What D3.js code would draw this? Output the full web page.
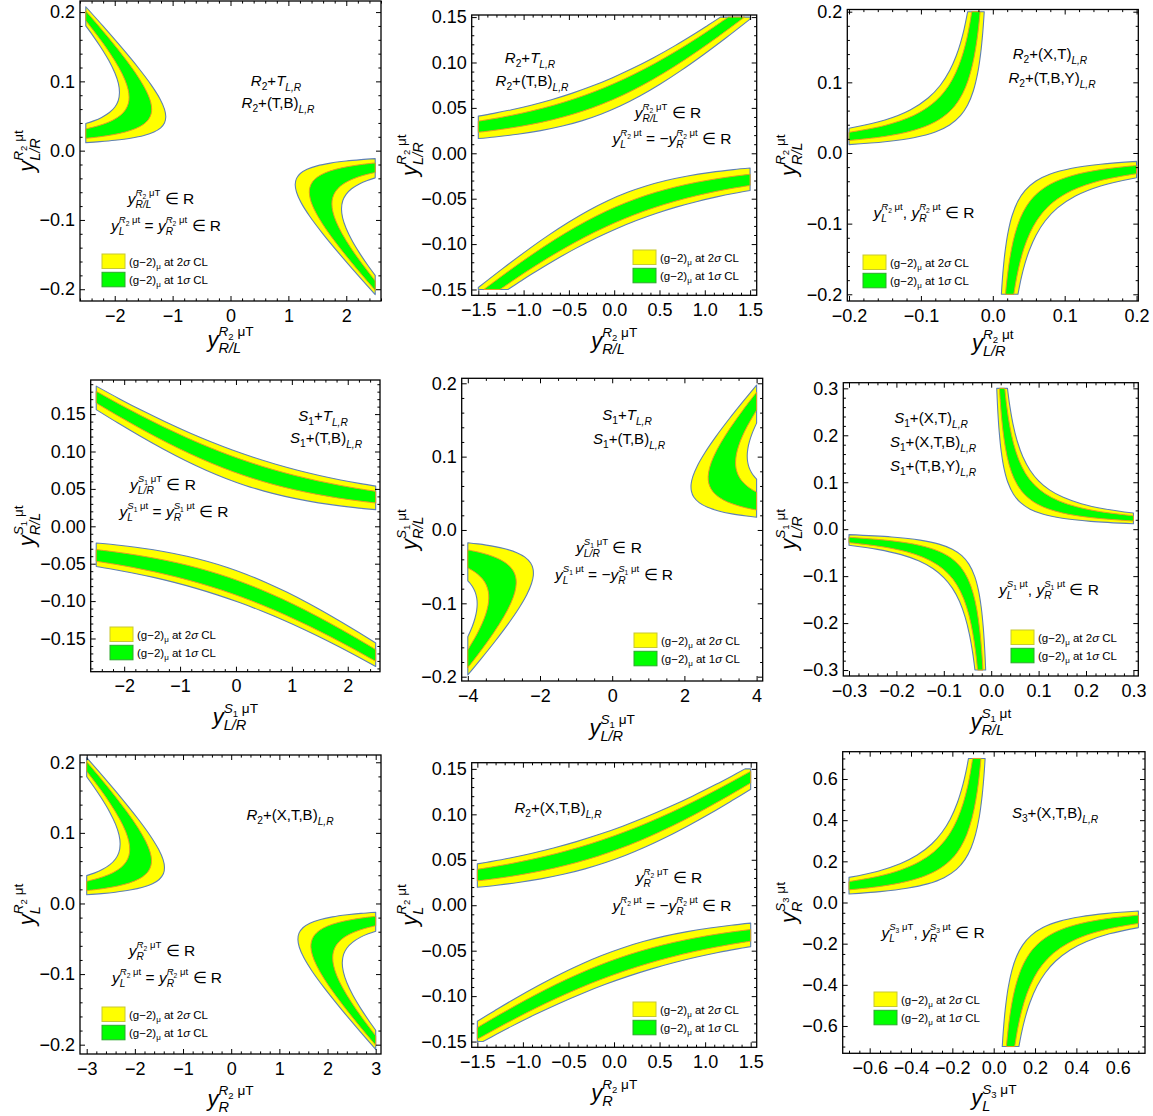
<!DOCTYPE html>
<html><head><meta charset="utf-8">
<script src="https://cdn.jsdelivr.net/npm/d3@7"></script>
<style>
body{margin:0;background:#fff;}
svg{display:block;font-family:"Liberation Sans",Arial,Helvetica,sans-serif;}
text{white-space:pre;}
</style></head><body>
<svg id="chart" width="1153" height="1116"></svg>
<script>
// ================= DATA (boundary points) =================
// Panel 1: R2+T, yL=yR ; x = y^{R2 mu T}_{R/L}, y = y^{R2 mu t}_{L/R}
const p1a_y1 = [[-2.5,0.01157],[-2.256,0.013],[-1.998,0.015],[-1.727,0.018],[-1.496,0.022],[-1.323,0.027],[-1.206,0.033],[-1.141,0.040],[-1.118,0.049],[-1.141,0.060],[-1.220,0.075],[-1.371,0.095],[-1.596,0.120],[-1.893,0.150],[-2.204,0.180],[-2.5,0.2077]];
const p1a_g1 = [[-2.5,0.01771],[-2.263,0.020],[-2.032,0.023],[-1.815,0.027],[-1.637,0.032],[-1.504,0.038],[-1.417,0.045],[-1.372,0.053],[-1.362,0.060],[-1.379,0.070],[-1.448,0.085],[-1.585,0.105],[-1.795,0.130],[-2.078,0.160],[-2.329,0.185],[-2.5,0.2016]];
const p1a_g2 = [[-2.5,0.03143],[-2.367,0.034],[-2.204,0.038],[-2.032,0.044],[-1.901,0.051],[-1.814,0.059],[-1.765,0.068],[-1.752,0.077],[-1.768,0.088],[-1.823,0.102],[-1.929,0.120],[-2.077,0.140],[-2.245,0.160],[-2.5,0.1879]];
const p1a_y2 = [[-2.5,0.03927],[-2.364,0.043],[-2.226,0.048],[-2.092,0.055],[-1.997,0.063],[-1.940,0.072],[-1.918,0.084],[-1.937,0.097],[-1.997,0.112],[-2.102,0.130],[-2.247,0.150],[-2.369,0.165],[-2.5,0.180]];
const p1b_y1 = [[2.5,-0.01157],[2.256,-0.013],[1.998,-0.015],[1.727,-0.018],[1.496,-0.022],[1.323,-0.027],[1.206,-0.033],[1.141,-0.040],[1.118,-0.049],[1.141,-0.060],[1.220,-0.075],[1.371,-0.095],[1.596,-0.120],[1.893,-0.150],[2.204,-0.180],[2.5,-0.2077]];
const p1b_g1 = [[2.5,-0.01771],[2.263,-0.020],[2.032,-0.023],[1.815,-0.027],[1.637,-0.032],[1.504,-0.038],[1.417,-0.045],[1.372,-0.053],[1.362,-0.060],[1.379,-0.070],[1.448,-0.085],[1.585,-0.105],[1.795,-0.130],[2.078,-0.160],[2.329,-0.185],[2.5,-0.2016]];
const p1b_g2 = [[2.5,-0.03143],[2.367,-0.034],[2.204,-0.038],[2.032,-0.044],[1.901,-0.051],[1.814,-0.059],[1.765,-0.068],[1.752,-0.077],[1.768,-0.088],[1.823,-0.102],[1.929,-0.120],[2.077,-0.140],[2.245,-0.160],[2.5,-0.1879]];
const p1b_y2 = [[2.5,-0.03927],[2.364,-0.043],[2.226,-0.048],[2.092,-0.055],[1.997,-0.063],[1.940,-0.072],[1.918,-0.084],[1.937,-0.097],[1.997,-0.112],[2.102,-0.130],[2.247,-0.150],[2.369,-0.165],[2.5,-0.180]];

// Panel 2: R2+T, yL=-yR
const p2a_y1 = [[-1.5,0.01626],[-1.317,0.018],[-1.066,0.021],[-0.811,0.025],[-0.571,0.030],[-0.351,0.036],[-0.147,0.043],[0.066,0.052],[0.283,0.063],[0.505,0.076],[0.736,0.091],[0.977,0.108],[1.232,0.127],[1.5,0.1478]];
const p2a_g1 = [[-1.5,0.02308],[-1.343,0.025],[-1.135,0.028],[-0.907,0.032],[-0.678,0.037],[-0.457,0.043],[-0.244,0.050],[-0.017,0.059],[0.197,0.069],[0.421,0.081],[0.655,0.095],[0.898,0.111],[1.155,0.129],[1.439,0.150]];
const p2a_g2 = [[-1.5,0.03536],[-1.338,0.038],[-1.123,0.042],[-0.896,0.047],[-0.666,0.053],[-0.438,0.060],[-0.215,0.068],[0.004,0.077],[0.218,0.087],[0.449,0.099],[0.676,0.112],[0.918,0.127],[1.085,0.138],[1.261,0.150]];
const p2a_y2 = [[-1.5,0.04097],[-1.330,0.044],[-1.132,0.048],[-0.917,0.053],[-0.693,0.059],[-0.469,0.066],[-0.245,0.074],[-0.025,0.083],[0.193,0.093],[0.429,0.105],[0.662,0.118],[0.910,0.133],[1.035,0.141],[1.173,0.150]];
const p2a_corner = [[1.5,0.15]];
const p2b_y1 = [[1.5,-0.01626],[1.317,-0.018],[1.066,-0.021],[0.811,-0.025],[0.571,-0.030],[0.351,-0.036],[0.147,-0.043],[-0.066,-0.052],[-0.283,-0.063],[-0.505,-0.076],[-0.736,-0.091],[-0.977,-0.108],[-1.232,-0.127],[-1.5,-0.1478]];
const p2b_g1 = [[1.5,-0.02308],[1.343,-0.025],[1.135,-0.028],[0.907,-0.032],[0.678,-0.037],[0.457,-0.043],[0.244,-0.050],[0.017,-0.059],[-0.197,-0.069],[-0.421,-0.081],[-0.655,-0.095],[-0.898,-0.111],[-1.155,-0.129],[-1.439,-0.150]];
const p2b_g2 = [[1.5,-0.03536],[1.338,-0.038],[1.123,-0.042],[0.896,-0.047],[0.666,-0.053],[0.438,-0.060],[0.215,-0.068],[-0.004,-0.077],[-0.218,-0.087],[-0.449,-0.099],[-0.676,-0.112],[-0.918,-0.127],[-1.085,-0.138],[-1.261,-0.150]];
const p2b_y2 = [[1.5,-0.04097],[1.330,-0.044],[1.132,-0.048],[0.917,-0.053],[0.693,-0.059],[0.469,-0.066],[0.245,-0.074],[0.025,-0.083],[-0.193,-0.093],[-0.429,-0.105],[-0.662,-0.118],[-0.910,-0.133],[-1.035,-0.141],[-1.173,-0.150]];
const p2b_corner = [[-1.5,-0.15]];

// Panel 3: R2+(X,T), yL, yR
const p3a_y1 = [[-0.2,0.0119],[-0.15,0.01587],[-0.11,0.02164],[-0.08,0.02975],[-0.06,0.03967],[-0.045,0.05289],[-0.035,0.068],[-0.027,0.08815],[-0.021,0.1133],[-0.017,0.14],[-0.014,0.17],[-0.0119,0.2]];
const p3a_g1 = [[-0.2,0.01765],[-0.15,0.02353],[-0.11,0.03209],[-0.08,0.04413],[-0.06,0.05883],[-0.047,0.07511],[-0.038,0.09289],[-0.031,0.1139],[-0.026,0.1358],[-0.022,0.1605],[-0.0195,0.181],[-0.01765,0.2]];
const p3a_g2 = [[-0.2,0.02925],[-0.15,0.039],[-0.11,0.05318],[-0.085,0.06882],[-0.068,0.08603],[-0.056,0.1045],[-0.047,0.1245],[-0.041,0.1427],[-0.036,0.1625],[-0.032,0.1828],[-0.02925,0.2]];
const p3a_y2 = [[-0.2,0.035],[-0.15,0.04667],[-0.115,0.06087],[-0.09,0.07778],[-0.073,0.09589],[-0.06,0.1167],[-0.051,0.1373],[-0.045,0.1556],[-0.04,0.175],[-0.035,0.2]];
const p3b_y1 = [[0.2,-0.0119],[0.15,-0.01587],[0.11,-0.02164],[0.08,-0.02975],[0.06,-0.03967],[0.045,-0.05289],[0.035,-0.068],[0.027,-0.08815],[0.021,-0.1133],[0.017,-0.14],[0.014,-0.17],[0.0119,-0.2]];
const p3b_g1 = [[0.2,-0.01765],[0.15,-0.02353],[0.11,-0.03209],[0.08,-0.04413],[0.06,-0.05883],[0.047,-0.07511],[0.038,-0.09289],[0.031,-0.1139],[0.026,-0.1358],[0.022,-0.1605],[0.0195,-0.181],[0.01765,-0.2]];
const p3b_g2 = [[0.2,-0.02925],[0.15,-0.039],[0.11,-0.05318],[0.085,-0.06882],[0.068,-0.08603],[0.056,-0.1045],[0.047,-0.1245],[0.041,-0.1427],[0.036,-0.1625],[0.032,-0.1828],[0.02925,-0.2]];
const p3b_y2 = [[0.2,-0.035],[0.15,-0.04667],[0.115,-0.06087],[0.09,-0.07778],[0.073,-0.09589],[0.06,-0.1167],[0.051,-0.1373],[0.045,-0.1556],[0.04,-0.175],[0.035,-0.2]];

// Panel 4: S1+T, yL=yR
const p4a_y1 = [[2.5,0.02229],[2.132,0.025],[1.699,0.029],[1.276,0.034],[0.877,0.040],[0.504,0.047],[0.153,0.055],[-0.181,0.064],[-0.536,0.075],[-0.907,0.088],[-1.295,0.103],[-1.702,0.120],[-2.110,0.138],[-2.5,0.1560]];
const p4a_g1 = [[2.5,0.03114],[2.188,0.034],[1.815,0.038],[1.429,0.043],[1.043,0.049],[0.667,0.056],[0.303,0.064],[-0.050,0.073],[-0.428,0.084],[-0.824,0.097],[-1.237,0.112],[-1.668,0.129],[-2.096,0.147],[-2.5,0.1648]];
const p4a_g2 = [[2.5,0.04681],[2.225,0.050],[1.844,0.055],[1.449,0.061],[1.052,0.068],[0.658,0.076],[0.269,0.085],[-0.114,0.095],[-0.491,0.106],[-0.897,0.119],[-1.299,0.133],[-1.700,0.148],[-2.104,0.164],[-2.5,0.1805]];
const p4a_y2 = [[2.5,0.05366],[2.232,0.057],[1.873,0.062],[1.493,0.068],[1.104,0.075],[0.713,0.083],[0.323,0.092],[-0.064,0.102],[-0.449,0.113],[-0.834,0.125],[-1.246,0.139],[-1.659,0.154],[-2.073,0.170],[-2.5,0.1874]];
const p4b_y1 = [[-2.5,-0.02229],[-2.132,-0.025],[-1.699,-0.029],[-1.276,-0.034],[-0.877,-0.040],[-0.504,-0.047],[-0.153,-0.055],[0.181,-0.064],[0.536,-0.075],[0.907,-0.088],[1.295,-0.103],[1.702,-0.120],[2.110,-0.138],[2.5,-0.1560]];
const p4b_g1 = [[-2.5,-0.03114],[-2.188,-0.034],[-1.815,-0.038],[-1.429,-0.043],[-1.043,-0.049],[-0.667,-0.056],[-0.303,-0.064],[0.050,-0.073],[0.428,-0.084],[0.824,-0.097],[1.237,-0.112],[1.668,-0.129],[2.096,-0.147],[2.5,-0.1648]];
const p4b_g2 = [[-2.5,-0.04681],[-2.225,-0.050],[-1.844,-0.055],[-1.449,-0.061],[-1.052,-0.068],[-0.658,-0.076],[-0.269,-0.085],[0.114,-0.095],[0.491,-0.106],[0.897,-0.119],[1.299,-0.133],[1.700,-0.148],[2.104,-0.164],[2.5,-0.1805]];
const p4b_y2 = [[-2.5,-0.05366],[-2.232,-0.057],[-1.873,-0.062],[-1.493,-0.068],[-1.104,-0.075],[-0.713,-0.083],[-0.323,-0.092],[0.064,-0.102],[0.449,-0.113],[0.834,-0.125],[1.246,-0.139],[1.659,-0.154],[2.073,-0.170],[2.5,-0.1874]];

// Panel 5: S1+T, yL=-yR
const p5a_y1 = [[4,0.01742],[3.721,0.019],[3.318,0.022],[2.946,0.026],[2.642,0.031],[2.418,0.037],[2.259,0.045],[2.194,0.053],[2.185,0.062],[2.235,0.073],[2.364,0.088],[2.576,0.106],[2.881,0.128],[3.248,0.152],[3.638,0.176],[4,0.1976]];
const p5a_g1 = [[4,0.02718],[3.815,0.029],[3.564,0.032],[3.309,0.036],[3.080,0.041],[2.872,0.048],[2.738,0.056],[2.674,0.064],[2.659,0.073],[2.699,0.085],[2.810,0.100],[3.000,0.118],[3.283,0.140],[3.615,0.163],[4,0.1879]];
const p5a_g2 = [[4,0.05167],[3.878,0.055],[3.733,0.060],[3.589,0.067],[3.488,0.075],[3.431,0.084],[3.418,0.093],[3.440,0.103],[3.504,0.115],[3.608,0.128],[3.747,0.142],[4,0.1634]];
const p5a_y2 = [[4,0.06938],[3.933,0.073],[3.861,0.078],[3.793,0.085],[3.752,0.093],[3.740,0.101],[3.755,0.110],[3.799,0.120],[3.879,0.132],[4,0.1457]];
const p5b_y1 = [[-4,-0.01742],[-3.721,-0.019],[-3.318,-0.022],[-2.946,-0.026],[-2.642,-0.031],[-2.418,-0.037],[-2.259,-0.045],[-2.194,-0.053],[-2.185,-0.062],[-2.235,-0.073],[-2.364,-0.088],[-2.576,-0.106],[-2.881,-0.128],[-3.248,-0.152],[-3.638,-0.176],[-4,-0.1976]];
const p5b_g1 = [[-4,-0.02718],[-3.815,-0.029],[-3.564,-0.032],[-3.309,-0.036],[-3.080,-0.041],[-2.872,-0.048],[-2.738,-0.056],[-2.674,-0.064],[-2.659,-0.073],[-2.699,-0.085],[-2.810,-0.100],[-3.000,-0.118],[-3.283,-0.140],[-3.615,-0.163],[-4,-0.1879]];
const p5b_g2 = [[-4,-0.05167],[-3.878,-0.055],[-3.733,-0.060],[-3.589,-0.067],[-3.488,-0.075],[-3.431,-0.084],[-3.418,-0.093],[-3.440,-0.103],[-3.504,-0.115],[-3.608,-0.128],[-3.747,-0.142],[-4,-0.1634]];
const p5b_y2 = [[-4,-0.06938],[-3.933,-0.073],[-3.861,-0.078],[-3.793,-0.085],[-3.752,-0.093],[-3.740,-0.101],[-3.755,-0.110],[-3.799,-0.120],[-3.879,-0.132],[-4,-0.1457]];

// Panel 6: S1+(X,T), yL, yR
const p6a_y1 = [[0.01167,0.3],[0.0135,0.2593],[0.0165,0.2121],[0.021,0.1667],[0.027,0.1296],[0.035,0.1],[0.047,0.07447],[0.062,0.05645],[0.082,0.04268],[0.11,0.03182],[0.15,0.02333],[0.21,0.01667],[0.3,0.01167]];
const p6a_g1 = [[0.01733,0.3],[0.02,0.26],[0.024,0.2167],[0.03,0.1733],[0.038,0.1368],[0.049,0.1061],[0.064,0.08125],[0.084,0.0619],[0.11,0.04727],[0.15,0.03467],[0.21,0.02476],[0.3,0.01733]];
const p6a_g2 = [[0.02867,0.3],[0.033,0.2606],[0.039,0.2205],[0.047,0.183],[0.058,0.1483],[0.072,0.1194],[0.09,0.09556],[0.113,0.07611],[0.143,0.06014],[0.18,0.04778],[0.23,0.03739],[0.3,0.02867]];
const p6a_y2 = [[0.03433,0.3],[0.039,0.2641],[0.046,0.2239],[0.055,0.1873],[0.067,0.1537],[0.082,0.1256],[0.1,0.103],[0.123,0.08374],[0.152,0.06776],[0.19,0.05421],[0.24,0.04292],[0.3,0.03433]];
const p6b_y1 = [[-0.01167,-0.3],[-0.0135,-0.2593],[-0.0165,-0.2121],[-0.021,-0.1667],[-0.027,-0.1296],[-0.035,-0.1],[-0.047,-0.07447],[-0.062,-0.05645],[-0.082,-0.04268],[-0.11,-0.03182],[-0.15,-0.02333],[-0.21,-0.01667],[-0.3,-0.01167]];
const p6b_g1 = [[-0.01733,-0.3],[-0.02,-0.26],[-0.024,-0.2167],[-0.03,-0.1733],[-0.038,-0.1368],[-0.049,-0.1061],[-0.064,-0.08125],[-0.084,-0.0619],[-0.11,-0.04727],[-0.15,-0.03467],[-0.21,-0.02476],[-0.3,-0.01733]];
const p6b_g2 = [[-0.02867,-0.3],[-0.033,-0.2606],[-0.039,-0.2205],[-0.047,-0.183],[-0.058,-0.1483],[-0.072,-0.1194],[-0.09,-0.09556],[-0.113,-0.07611],[-0.143,-0.06014],[-0.18,-0.04778],[-0.23,-0.03739],[-0.3,-0.02867]];
const p6b_y2 = [[-0.03433,-0.3],[-0.039,-0.2641],[-0.046,-0.2239],[-0.055,-0.1873],[-0.067,-0.1537],[-0.082,-0.1256],[-0.1,-0.103],[-0.123,-0.08374],[-0.152,-0.06776],[-0.19,-0.05421],[-0.24,-0.04292],[-0.3,-0.03433]];

// Panel 7: R2+(X,T,B), yL=yR
const p7a_y1 = [[-3,0.01237],[-2.692,0.014],[-2.407,0.016],[-2.102,0.019],[-1.837,0.023],[-1.634,0.028],[-1.495,0.034],[-1.408,0.042],[-1.385,0.051],[-1.414,0.062],[-1.510,0.077],[-1.680,0.096],[-1.936,0.120],[-2.288,0.150],[-2.660,0.180],[-3,0.2066]];
const p7a_g1 = [[-3,0.01818],[-2.774,0.020],[-2.489,0.023],[-2.222,0.027],[-2.001,0.032],[-1.837,0.038],[-1.717,0.046],[-1.666,0.054],[-1.655,0.062],[-1.685,0.073],[-1.774,0.088],[-1.933,0.107],[-2.166,0.130],[-2.481,0.158],[-2.768,0.182],[-3,0.2008]];
const p7a_g2 = [[-3,0.03153],[-2.848,0.034],[-2.653,0.038],[-2.444,0.044],[-2.287,0.051],[-2.181,0.059],[-2.123,0.068],[-2.107,0.077],[-2.126,0.088],[-2.191,0.102],[-2.319,0.120],[-2.497,0.140],[-2.719,0.162],[-3,0.1874]];
const p7a_y2 = [[-3,0.03945],[-2.845,0.043],[-2.679,0.048],[-2.518,0.055],[-2.403,0.063],[-2.333,0.072],[-2.306,0.084],[-2.329,0.097],[-2.400,0.112],[-2.527,0.130],[-2.702,0.150],[-2.849,0.165],[-3,0.1795]];
const p7b_y1 = [[3,-0.01237],[2.692,-0.014],[2.407,-0.016],[2.102,-0.019],[1.837,-0.023],[1.634,-0.028],[1.495,-0.034],[1.408,-0.042],[1.385,-0.051],[1.414,-0.062],[1.510,-0.077],[1.680,-0.096],[1.936,-0.120],[2.288,-0.150],[2.660,-0.180],[3,-0.2066]];
const p7b_g1 = [[3,-0.01818],[2.774,-0.020],[2.489,-0.023],[2.222,-0.027],[2.001,-0.032],[1.837,-0.038],[1.717,-0.046],[1.666,-0.054],[1.655,-0.062],[1.685,-0.073],[1.774,-0.088],[1.933,-0.107],[2.166,-0.130],[2.481,-0.158],[2.768,-0.182],[3,-0.2008]];
const p7b_g2 = [[3,-0.03153],[2.848,-0.034],[2.653,-0.038],[2.444,-0.044],[2.287,-0.051],[2.181,-0.059],[2.123,-0.068],[2.107,-0.077],[2.126,-0.088],[2.191,-0.102],[2.319,-0.120],[2.497,-0.140],[2.719,-0.162],[3,-0.1874]];
const p7b_y2 = [[3,-0.03945],[2.845,-0.043],[2.679,-0.048],[2.518,-0.055],[2.403,-0.063],[2.333,-0.072],[2.306,-0.084],[2.329,-0.097],[2.400,-0.112],[2.527,-0.130],[2.702,-0.150],[2.849,-0.165],[3,-0.1795]];

// Panel 8: R2+(X,T,B), yL=-yR
const p8a_y1 = [[-1.5,0.01973],[-1.285,0.022],[-1.052,0.025],[-0.804,0.029],[-0.556,0.034],[-0.319,0.040],[-0.092,0.047],[0.129,0.055],[0.343,0.064],[0.576,0.075],[0.825,0.088],[1.075,0.102],[1.310,0.116],[1.5,0.1276]];
const p8a_g1 = [[-1.5,0.02672],[-1.321,0.029],[-1.118,0.032],[-0.889,0.036],[-0.650,0.041],[-0.411,0.047],[-0.175,0.054],[0.056,0.062],[0.283,0.071],[0.509,0.081],[0.755,0.093],[1.001,0.106],[1.251,0.120],[1.5,0.1346]];
const p8a_g2 = [[-1.5,0.03953],[-1.345,0.042],[-1.122,0.046],[-0.879,0.051],[-0.629,0.057],[-0.376,0.064],[-0.124,0.072],[0.126,0.081],[0.375,0.091],[0.624,0.102],[0.874,0.114],[1.127,0.127],[1.367,0.140],[1.5,0.1474]];
const p8a_y2 = [[-1.5,0.0455],[-1.354,0.048],[-1.142,0.052],[-0.910,0.057],[-0.664,0.063],[-0.413,0.070],[-0.160,0.078],[0.094,0.087],[0.348,0.097],[0.603,0.108],[0.860,0.120],[1.120,0.133],[1.291,0.142],[1.438,0.150]];
const p8a_corner = [[1.5,0.15]];
const p8b_y1 = [[1.5,-0.01973],[1.285,-0.022],[1.052,-0.025],[0.804,-0.029],[0.556,-0.034],[0.319,-0.040],[0.092,-0.047],[-0.129,-0.055],[-0.343,-0.064],[-0.576,-0.075],[-0.825,-0.088],[-1.075,-0.102],[-1.310,-0.116],[-1.5,-0.1276]];
const p8b_g1 = [[1.5,-0.02672],[1.321,-0.029],[1.118,-0.032],[0.889,-0.036],[0.650,-0.041],[0.411,-0.047],[0.175,-0.054],[-0.056,-0.062],[-0.283,-0.071],[-0.509,-0.081],[-0.755,-0.093],[-1.001,-0.106],[-1.251,-0.120],[-1.5,-0.1346]];
const p8b_g2 = [[1.5,-0.03953],[1.345,-0.042],[1.122,-0.046],[0.879,-0.051],[0.629,-0.057],[0.376,-0.064],[0.124,-0.072],[-0.126,-0.081],[-0.375,-0.091],[-0.624,-0.102],[-0.874,-0.114],[-1.127,-0.127],[-1.367,-0.140],[-1.5,-0.1474]];
const p8b_y2 = [[1.5,-0.0455],[1.354,-0.048],[1.142,-0.052],[0.910,-0.057],[0.664,-0.063],[0.413,-0.070],[0.160,-0.078],[-0.094,-0.087],[-0.348,-0.097],[-0.603,-0.108],[-0.860,-0.120],[-1.120,-0.133],[-1.291,-0.142],[-1.438,-0.150]];
const p8b_corner = [[-1.5,-0.15]];

// Panel 9: S3+(X,T,B)
const p9a_y1 = [[-0.7,0.04143],[-0.55,0.05273],[-0.42,0.06905],[-0.32,0.09063],[-0.24,0.1208],[-0.18,0.1611],[-0.14,0.2071],[-0.11,0.2636],[-0.088,0.3295],[-0.07,0.4143],[-0.056,0.5179],[-0.047,0.617],[-0.04143,0.7]];
const p9a_g1 = [[-0.7,0.06143],[-0.55,0.07818],[-0.42,0.1024],[-0.33,0.1303],[-0.26,0.1654],[-0.2,0.215],[-0.16,0.2688],[-0.13,0.3308],[-0.105,0.4095],[-0.087,0.4943],[-0.073,0.589],[-0.06143,0.7]];
const p9a_g2 = [[-0.7,0.1017],[-0.56,0.1271],[-0.45,0.1582],[-0.36,0.1978],[-0.29,0.2455],[-0.235,0.303],[-0.195,0.3651],[-0.16,0.445],[-0.135,0.5274],[-0.117,0.6085],[-0.1017,0.7]];
const p9a_y2 = [[-0.7,0.1219],[-0.56,0.1523],[-0.45,0.1896],[-0.37,0.2305],[-0.3,0.2843],[-0.25,0.3412],[-0.21,0.4062],[-0.175,0.4874],[-0.15,0.5687],[-0.135,0.6319],[-0.1219,0.7]];
const p9b_y1 = [[0.7,-0.04143],[0.55,-0.05273],[0.42,-0.06905],[0.32,-0.09063],[0.24,-0.1208],[0.18,-0.1611],[0.14,-0.2071],[0.11,-0.2636],[0.088,-0.3295],[0.07,-0.4143],[0.056,-0.5179],[0.047,-0.617],[0.04143,-0.7]];
const p9b_g1 = [[0.7,-0.06143],[0.55,-0.07818],[0.42,-0.1024],[0.33,-0.1303],[0.26,-0.1654],[0.2,-0.215],[0.16,-0.2688],[0.13,-0.3308],[0.105,-0.4095],[0.087,-0.4943],[0.073,-0.589],[0.06143,-0.7]];
const p9b_g2 = [[0.7,-0.1017],[0.56,-0.1271],[0.45,-0.1582],[0.36,-0.1978],[0.29,-0.2455],[0.235,-0.303],[0.195,-0.3651],[0.16,-0.445],[0.135,-0.5274],[0.117,-0.6085],[0.1017,-0.7]];
const p9b_y2 = [[0.7,-0.1219],[0.56,-0.1523],[0.45,-0.1896],[0.37,-0.2305],[0.3,-0.2843],[0.25,-0.3412],[0.21,-0.4062],[0.175,-0.4874],[0.15,-0.5687],[0.135,-0.6319],[0.1219,-0.7]];

// Tick values and labels
const tk_int2 = [-2,-1,0,1,2], tl_int2 = ["\u22122","\u22121","0","1","2"];
const tk_int3 = [-3,-2,-1,0,1,2,3], tl_int3 = ["\u22123","\u22122","\u22121","0","1","2","3"];
const tk_int4 = [-4,-2,0,2,4], tl_int4 = ["\u22124","\u22122","0","2","4"];
const tk_15 = [-1.5,-1,-0.5,0,0.5,1,1.5], tl_15 = ["\u22121.5","\u22121.0","\u22120.5","0.0","0.5","1.0","1.5"];
const tk_02 = [-0.2,-0.1,0,0.1,0.2], tl_02 = ["\u22120.2","\u22120.1","0.0","0.1","0.2"];
const tk_015 = [-0.15,-0.1,-0.05,0,0.05,0.1,0.15], tl_015 = ["\u22120.15","\u22120.10","\u22120.05","0.00","0.05","0.10","0.15"];
const tk_03 = [-0.3,-0.2,-0.1,0,0.1,0.2,0.3], tl_03 = ["\u22120.3","\u22120.2","\u22120.1","0.0","0.1","0.2","0.3"];
const tk_06 = [-0.6,-0.4,-0.2,0,0.2,0.4,0.6], tl_06 = ["\u22120.6","\u22120.4","\u22120.2","0.0","0.2","0.4","0.6"];

const legendLabels = ["2", "1"];

// ================= RENDER =================
const svg = d3.select('#chart');
const NB = '\u00a0';
function seg(t, fs, o) { o = o || {}; return {t: t.replace(/ /g, NB), fs, i: !!o.i, dy: o.dy || 0}; }
function yv(sz, lq, n, rest, sub) {
  const ss = sz * 0.62, sb = sz * 0.66;
  return [seg('y', sz, {i:1}), {sup:[seg(lq, ss, {i:1}), seg(n, ss*0.7, {dy: ss*0.3}), seg(' ' + rest, ss)], supDy: -sz*0.5, sub:[seg(sub, sb, {i:1})], subDy: sz*0.26}];
}
function mlab(sz, lq, n, body) {
  return [seg(lq, sz, {i:1}), seg(n, sz*0.68, {dy: sz*0.28}), seg('+', sz)].concat(body).concat([{sub:[seg('L,R', sz*0.68, {i:1})], subDy: sz*0.3}]);
}
function drawRich(parent, items, x, y, anchor, rot) {
  const g = parent.append('g').attr('transform', `translate(${x},${y})` + (rot ? ' rotate(-90)' : ''));
  const inner = g.append('g');
  let cx = 0;
  const run = (segs, base) => {
    const t = inner.append('text').attr('x', cx).attr('y', base).attr('fill', '#000').attr('xml:space', 'preserve');
    segs.forEach(s => t.append('tspan').attr('y', base + s.dy).attr('font-size', s.fs).attr('font-style', s.i ? 'italic' : 'normal').text(s.t));
    return t.node().getComputedTextLength();
  };
  items.forEach(it => {
    if (it.sup || it.sub) {
      let w = 0;
      if (it.sup) w = Math.max(w, run(it.sup, it.supDy));
      if (it.sub) w = Math.max(w, run(it.sub, it.subDy));
      cx += w;
    } else cx += run([it], 0);
  });
  const off = anchor === 'middle' ? -cx/2 : anchor === 'end' ? -cx : 0;
  inner.attr('transform', `translate(${off},0)`);
}
const AX = 22, CF = 15.5, MF = 15;
const cond1 = (lq, n, rest, sub) => yv(CF, lq, n, rest, sub).concat([seg(' \u2208 R', CF)]);
const condEq = (lq, n, sign) => yv(CF, lq, n, '\u03bct', 'L').concat([seg(sign ? ' = \u2212' : ' = ', CF)]).concat(yv(CF, lq, n, '\u03bct', 'R')).concat([seg(' \u2208 R', CF)]);
const condPair = (lq, n, r1) => yv(CF, lq, n, r1, 'L').concat([seg(', ', CF)]).concat(yv(CF, lq, n, '\u03bct', 'R')).concat([seg(' \u2208 R', CF)]);

const panels = [
  {id:1, L:80, T:1, R:381, B:301, xd:[-2.6,2.6], yd:[-0.217,0.216], xt:tk_int2, xl:tl_int2, yt:tk_02, yl:tl_02, xm:0.2, ym:0.02,
   br:[{y:[p1a_y1,p1a_y2], g:[p1a_g1,p1a_g2]}, {y:[p1b_y1,p1b_y2], g:[p1b_g1,p1b_g2]}],
   xlab:['R','2','\u03bcT','R/L'], ylab:['R','2','\u03bct','L/R'], xlY:347, ylX:34,
   texts:[[mlab(MF,'R','2',[seg('T',MF,{i:1})]),276,86],[mlab(MF,'R','2',[seg('(T,B)',MF)]),278,108],[cond1('R','2','\u03bcT','R/L'),161,204],[condEq('R','2',false),166,231]],
   leg:[102,254]},
  {id:2, L:471.7, T:15, R:756.7, B:295.3, xd:[-1.573,1.573], yd:[-0.1564,0.1523], xt:tk_15, xl:tl_15, yt:tk_015, yl:tl_015, xm:0.1, ym:0.01,
   br:[{y:[p2a_y1,p2a_y2], c:p2a_corner, g:[p2a_g1,p2a_g2]}, {y:[p2b_y1,p2b_y2], c:p2b_corner, g:[p2b_g1,p2b_g2]}],
   xlab:['R','2','\u03bcT','R/L'], ylab:['R','2','\u03bct','L/R'], xlY:348, ylX:417,
   texts:[[mlab(MF,'R','2',[seg('T',MF,{i:1})]),530,63],[mlab(MF,'R','2',[seg('(T,B)',MF)]),532,86],[cond1('R','2','\u03bcT','R/L'),668,118],[condEq('R','2',true),672,144]],
   leg:[633,250]},
  {id:3, L:847.3, T:9.5, R:1138.3, B:301, xd:[-0.2024,0.2024], yd:[-0.2095,0.2031], xt:tk_02, xl:tl_02, yt:tk_02, yl:tl_02, xm:0.02, ym:0.02,
   br:[{y:[p3a_y1,p3a_y2], g:[p3a_g1,p3a_g2]}, {y:[p3b_y1,p3b_y2], g:[p3b_g1,p3b_g2]}],
   xlab:['R','2','\u03bct','L/R'], ylab:['R','2','\u03bct','R/L'], xlY:350, ylX:796,
   texts:[[mlab(MF,'R','2',[seg('(X,T)',MF)]),1050,59],[mlab(MF,'R','2',[seg('(T,B,Y)',MF)]),1052,83],[condPair('R','2','\u03bct'),924,218]],
   leg:[863,255]},
  {id:4, L:90.7, T:380, R:380, B:671.7, xd:[-2.599,2.577], yd:[-0.1944,0.1956], xt:tk_int2, xl:tl_int2, yt:tk_015, yl:tl_015, xm:0.2, ym:0.01,
   br:[{y:[p4a_y1,p4a_y2], g:[p4a_g1,p4a_g2]}, {y:[p4b_y1,p4b_y2], g:[p4b_g1,p4b_g2]}],
   xlab:['S','1','\u03bcT','L/R'], ylab:['S','1','\u03bct','R/L'], xlY:724, ylX:34,
   texts:[[mlab(MF,'S','1',[seg('T',MF,{i:1})]),323,421],[mlab(MF,'S','1',[seg('(T,B)',MF)]),326,443],[cond1('S','1','\u03bcT','L/R'),163,490],[condEq('S','1',false),174,517]],
   leg:[110,627]},
  {id:5, L:461.7, T:378.3, R:762.7, B:681, xd:[-4.169,4.169], yd:[-0.2059,0.2068], xt:tk_int4, xl:tl_int4, yt:tk_02, yl:tl_02, xm:0.5, ym:0.02,
   br:[{y:[p5a_y1,p5a_y2], g:[p5a_g1,p5a_g2]}, {y:[p5b_y1,p5b_y2], g:[p5b_g1,p5b_g2]}],
   xlab:['S','1','\u03bcT','L/R'], ylab:['S','1','\u03bct','R/L'], xlY:735, ylX:417,
   texts:[[mlab(MF,'S','1',[seg('T',MF,{i:1})]),627,420],[mlab(MF,'S','1',[seg('(T,B)',MF)]),629,444],[cond1('S','1','\u03bcT','L/R'),609,553],[condEq('S','1',true),614,580]],
   leg:[634,633]},
  {id:6, L:843.3, T:382.7, R:1138.3, B:676, xd:[-0.312,0.3103], yd:[-0.3127,0.312], xt:tk_03, xl:tl_03, yt:tk_03, yl:tl_03, xm:0.02, ym:0.02,
   br:[{y:[p6a_y1,p6a_y2], g:[p6a_g1,p6a_g2]}, {y:[p6b_y1,p6b_y2], g:[p6b_g1,p6b_g2]}],
   xlab:['S','1','\u03bct','R/L'], ylab:['S','1','\u03bct','L/R'], xlY:729, ylX:796,
   texts:[[mlab(MF,'S','1',[seg('(X,T)',MF)]),931,423],[mlab(MF,'S','1',[seg('(X,T,B)',MF)]),933,447],[mlab(MF,'S','1',[seg('(T,B,Y)',MF)]),933,471],[condPair('S','1','\u03bct'),1049,595]],
   leg:[1011,630]},
  {id:7, L:80, T:755, R:381, B:1054, xd:[-3.139,3.110], yd:[-0.2132,0.2103], xt:tk_int3, xl:tl_int3, yt:tk_02, yl:tl_02, xm:0.2, ym:0.02,
   br:[{y:[p7a_y1,p7a_y2], g:[p7a_g1,p7a_g2]}, {y:[p7b_y1,p7b_y2], g:[p7b_g1,p7b_g2]}],
   xlab:['R','2','\u03bcT','R'], ylab:['R','2','\u03bct','L'], xlY:1106, ylX:34,
   texts:[[mlab(MF,'R','2',[seg('(X,T,B)',MF)]),290,820],[cond1('R','2','\u03bcT','R'),162,956],[condEq('R','2',false),167,983]],
   leg:[102,1007]},
  {id:8, L:471.7, T:762.7, R:756.7, B:1047.3, xd:[-1.562,1.566], yd:[-0.1563,0.1568], xt:tk_15, xl:tl_15, yt:tk_015, yl:tl_015, xm:0.1, ym:0.01,
   br:[{y:[p8a_y1,p8a_y2], c:p8a_corner, g:[p8a_g1,p8a_g2]}, {y:[p8b_y1,p8b_y2], c:p8b_corner, g:[p8b_g1,p8b_g2]}],
   xlab:['R','2','\u03bcT','R'], ylab:['R','2','\u03bct','L'], xlY:1100, ylX:417,
   texts:[[mlab(MF,'R','2',[seg('(X,T,B)',MF)]),558,813],[cond1('R','2','\u03bcT','R'),669,883],[condEq('R','2',true),672,911]],
   leg:[633,1002]},
  {id:9, L:842.7, T:751.7, R:1145, B:1053.3, xd:[-0.7305,0.732], yd:[-0.7328,0.7328], xt:tk_06, xl:tl_06, yt:tk_06, yl:tl_06, xm:0.05, ym:0.05,
   br:[{y:[p9a_y1,p9a_y2], g:[p9a_g1,p9a_g2]}, {y:[p9b_y1,p9b_y2], g:[p9b_g1,p9b_g2]}],
   xlab:['S','3','\u03bcT','L'], ylab:['S','3','\u03bct','R'], xlY:1105, ylX:796,
   texts:[[mlab(MF,'S','3',[seg('(X,T,B)',MF)]),1055,818],[condPair('S','3','\u03bcT'),933,938]],
   leg:[874,992]}
];

const FF = '"Liberation Sans", Arial, Helvetica, sans-serif';
const TK = 5, TM = 2.6;
function minorVals(d, step, majors) {
  const out = [];
  for (let k = Math.ceil(d[0]/step - 1e-9); k <= Math.floor(d[1]/step + 1e-9); k++) {
    const v = k * step;
    if (!majors.some(m => Math.abs(m - v) < step * 1e-3)) out.push(v);
  }
  return out;
}
function polyPath(xs, ys, a, b, corners) {
  const lg = d3.line().x(d => xs(d[0])).y(d => ys(d[1])).curve(d3.curveCatmullRom.alpha(0.5));
  let p = lg(a);
  (corners || []).forEach(c => { p += 'L' + xs(c[0]) + ',' + ys(c[1]); });
  p += lg(b.slice().reverse()).replace(/^M/, 'L');
  return p + 'Z';
}

panels.forEach(P => {
  const g = svg.append('g');
  const xs = d3.scaleLinear().domain(P.xd).range([P.L, P.R]);
  const ys = d3.scaleLinear().domain(P.yd).range([P.B, P.T]);
  const cid = 'clip' + P.id;
  svg.append('clipPath').attr('id', cid).append('rect').attr('x', P.L).attr('y', P.T).attr('width', P.R - P.L).attr('height', P.B - P.T);
  const rg = g.append('g').attr('clip-path', `url(#${cid})`);
  P.br.forEach(b => rg.append('path').attr('d', polyPath(xs, ys, b.y[0], b.y[1], b.c)).attr('fill', '#ffff00').attr('stroke', '#5e81b5').attr('stroke-width', 1.1).attr('stroke-linejoin', 'round'));
  P.br.forEach(b => rg.append('path').attr('d', polyPath(xs, ys, b.g[0], b.g[1], null)).attr('fill', '#00ff00').attr('stroke', '#e19c24').attr('stroke-width', 1).attr('stroke-linejoin', 'round'));

  // axes
  const mk = (axis, tr) => {
    const a = g.append('g').attr('transform', tr).call(axis);
    a.select('.domain').remove();
    a.attr('font-family', FF).attr('font-size', 18);
    a.selectAll('line').attr('stroke', '#000');
    a.selectAll('text').attr('fill', '#000');
    return a;
  };
  const xmin = minorVals(P.xd, P.xm, P.xt), ymin = minorVals(P.yd, P.ym, P.yt);
  mk(d3.axisBottom(xs).tickValues(P.xt).tickFormat((d, i) => P.xl[i]).tickSize(-TK).tickPadding(8), `translate(0,${P.B})`);
  mk(d3.axisBottom(xs).tickValues(xmin).tickFormat('').tickSize(-TM), `translate(0,${P.B})`);
  mk(d3.axisTop(xs).tickValues(P.xt).tickFormat('').tickSize(-TK), `translate(0,${P.T})`);
  mk(d3.axisTop(xs).tickValues(xmin).tickFormat('').tickSize(-TM), `translate(0,${P.T})`);
  mk(d3.axisLeft(ys).tickValues(P.yt).tickFormat((d, i) => P.yl[i]).tickSize(-TK).tickPadding(5), `translate(${P.L},0)`);
  mk(d3.axisLeft(ys).tickValues(ymin).tickFormat('').tickSize(-TM), `translate(${P.L},0)`);
  mk(d3.axisRight(ys).tickValues(P.yt).tickFormat('').tickSize(-TK), `translate(${P.R},0)`);
  mk(d3.axisRight(ys).tickValues(ymin).tickFormat('').tickSize(-TM), `translate(${P.R},0)`);
  g.append('rect').attr('x', P.L).attr('y', P.T).attr('width', P.R - P.L).attr('height', P.B - P.T).attr('fill', 'none').attr('stroke', '#000').attr('stroke-width', 1.3);

  // axis labels
  drawRich(g, yv(AX, P.xlab[0], P.xlab[1], P.xlab[2], P.xlab[3]), (P.L + P.R) / 2, P.xlY, 'middle', false);
  drawRich(g, yv(AX, P.ylab[0], P.ylab[1], P.ylab[2], P.ylab[3]), P.ylX, (P.T + P.B) / 2, 'middle', true);

  // annotations
  P.texts.forEach(t => drawRich(g, t[0], t[1], t[2], 'middle', false));

  // legend
  const lx = P.leg[0], ly = P.leg[1];
  const sw = [['#ffff00', '#c8c832'], ['#00ff00', '#2ea82e']];
  legendLabels.forEach((lab, i) => {
    g.append('rect').attr('x', lx).attr('y', ly + i * 18.3).attr('width', 23).attr('height', 14.5).attr('fill', sw[i][0]).attr('stroke', sw[i][1]).attr('stroke-width', 1);
    drawRich(g, [seg('(g\u22122)', 11.5), {sub:[seg('\u03bc', 8)], subDy: 3}, seg(' at ' + lab, 11.5), seg('\u03c3', 11.5, {i:1}), seg(' CL', 11.5)], lx + 27, ly + i * 18.3 + 11.5, 'start', false);
  });
});
</script>
</body></html>
